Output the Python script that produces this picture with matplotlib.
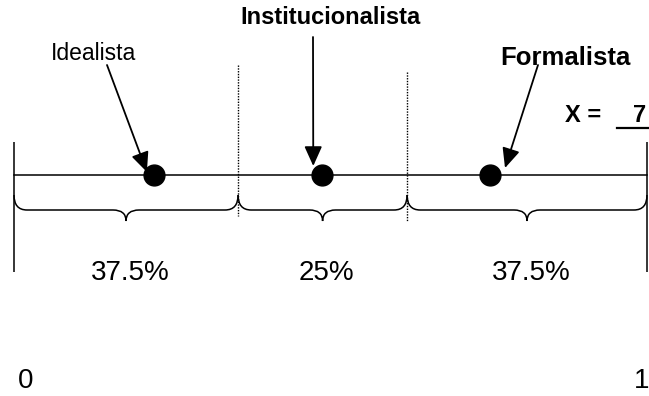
import matplotlib
matplotlib.use('Agg')
import matplotlib.pyplot as plt
from matplotlib.path import Path
from matplotlib.patches import PathPatch

plt.rcParams['font.family'] = ['Liberation Sans', 'DejaVu Sans']

##### data: number line from 0 to 1
bounds = [0.0, 0.354, 0.621, 1.0]          # dotted dividers between segments
shares = ['37.5%', '25%', '37.5%']          # label under each brace
schools = ['Idealista', 'Institucionalista', 'Formalista']
school_pos = [0.221, 0.487, 0.752]          # dots on the line
x_value = '7'
end_labels = ['0', '1']

PX = 633.0   # pixels per unit of the number line (layout only)

fig = plt.figure(figsize=(6.49, 3.96), dpi=100)
ax = fig.add_axes([0, 0, 1, 1])
ax.set_xlim(-14 / PX, 635 / PX)
ax.set_ylim(396, 0)   # y in pixels, top down
ax.axis('off')

line_y = 175

### main line and end bars
ax.plot([bounds[0], bounds[-1]], [line_y, line_y], color='black', lw=1.1)
ax.vlines([bounds[0], bounds[-1]], 142, 272, colors='black', lw=1.1)

### dotted dividers
ax.vlines(bounds[1], 65, 216, colors='black', lw=1.0, linestyles=(0, (1, 1)))
ax.vlines(bounds[2], 72, 222, colors='black', lw=1.0, linestyles=(0, (1, 1)))


def brace(x0, x1, top=195, flat=210, tip=221, r=13):
    r = r / PX
    xm = (x0 + x1) / 2
    verts = [(x0, top), (x0, flat), (x0 + r, flat),
             (xm - r, flat), (xm, flat), (xm, tip),
             (xm, flat), (xm + r, flat),
             (x1 - r, flat), (x1, flat), (x1, top)]
    codes = [Path.MOVETO, Path.CURVE3, Path.CURVE3,
             Path.LINETO, Path.CURVE3, Path.CURVE3,
             Path.CURVE3, Path.CURVE3,
             Path.LINETO, Path.CURVE3, Path.CURVE3]
    ax.add_patch(PathPatch(Path(verts, codes), fill=False, lw=1.1, ec='black'))


for i in range(len(shares)):
    brace(bounds[i], bounds[i + 1])
    mid = (bounds[i] + bounds[i + 1]) / 2
    ax.text(mid + 4 / PX, 280, shares[i], fontsize=20, ha='center', va='baseline')

### dots
ax.plot(school_pos, [line_y] * 3, 'o', color='black', ms=15)

### labels and arrows
label_xy = [(94, 60), (331, 24), (565, 65)]          # px
label_style = [dict(fontsize=16.5), dict(fontsize=17, fontweight='bold'),
               dict(fontsize=18.5, fontweight='bold')]
tails = [(107, 65), (313, 37), (538, 65)]            # px
tip_off = [(-7, -3), (-9, -9), (15, -7)]             # px from dot centre

for name, pos, lxy, st, tl, off in zip(schools, school_pos, label_xy, label_style, tails, tip_off):
    ax.text((lxy[0] - 14) / PX, lxy[1], name, ha='center', va='baseline', **st)
    ax.annotate('', xy=(pos + off[0] / PX, line_y + off[1]),
                xytext=((tl[0] - 14) / PX, tl[1]),
                arrowprops=dict(arrowstyle='-|>,head_length=0.6,head_width=0.27',
                                mutation_scale=20, lw=1.3, color='black',
                                shrinkA=0, shrinkB=0))

### X = 7
ax.text((565 - 14) / PX, 122, 'X =', fontsize=17, fontweight='bold', va='baseline')
ax.text((633 - 14) / PX, 122, x_value, fontsize=17, fontweight='bold', va='baseline')
ax.plot([(617 - 14) / PX, (660 - 14) / PX], [128, 128], color='black', lw=1.6)

### ends of the line
ax.text(bounds[0] + 4 / PX, 388, end_labels[0], fontsize=20, ha='left', va='baseline')
ax.text(bounds[-1] - 13 / PX, 388, end_labels[1], fontsize=20, ha='left', va='baseline')

fig.savefig('out.png', dpi=100)
